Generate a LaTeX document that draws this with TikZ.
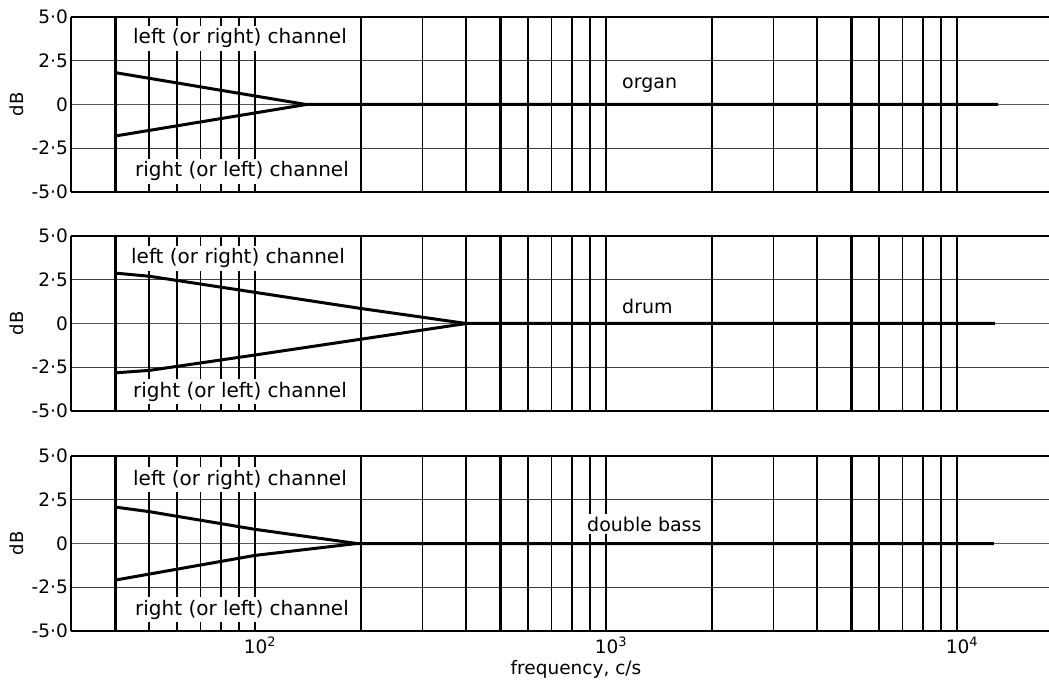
\documentclass[tikz,border=0pt]{standalone}
\usepackage{fontspec}
\setmainfont{DejaVu Sans}
\begin{document}
\begin{tikzpicture}[x=1pt,y=-1pt,
  border/.style={line width=2pt,black},
  hgrid/.style={line width=1.4pt,black!75},
  zgrid/.style={line width=1.2pt,black!65},
  curve/.style={line width=3pt,black,line join=round},
  tick/.style={font=\fontsize{18.5}{22}\selectfont,inner sep=1pt,anchor=east},
  chan/.style={font=\fontsize{20}{24}\selectfont,fill=white,inner sep=3pt,anchor=base},
  inst/.style={font=\fontsize{19}{22}\selectfont,fill=white,inner sep=3pt,anchor=base west},
  axlab/.style={font=\fontsize{18.5}{22}\selectfont,inner sep=1pt,anchor=base}]
\useasboundingbox (0,0) rectangle (1049,684);
% grids of the three panels
\foreach \T in {17,236,456} {
  \begin{scope}[shift={(255,\T+87.5)},x=351pt,y=17.5pt]
    \foreach \d in {2.5,-2.5} \draw[hgrid] (-0.52288,\d) -- (2.262,\d);
    \draw[zgrid] (-0.52288,0) -- (2.262,0);
    \foreach \u/\w in {-0.39794/2.6,-0.30103/1.7,-0.22185/1.7,-0.15490/1.7,-0.09691/1.7,-0.04576/1.7,
                       0/2.6,0.30103/1.7,0.47712/1.5,0.60206/1.7,0.69897/2.4,0.77815/1.7,0.84510/1.7,0.90309/1.7,0.95424/1.7,
                       1/2.6,1.30103/1.7,1.47712/1.5,1.60206/1.7,1.69897/2.4,1.77815/1.7,1.84510/1.7,1.90309/1.7,1.95424/1.7,2/2.6}
      \draw[line width=\w pt,black] (\u,5) -- (\u,-5);
    \draw[border] (-0.52288,5) -- (2.262,5);
    \draw[border] (-0.52288,-5) -- (2.262,-5);
    \draw[border] (-0.52288,5) -- (-0.52288,-5);
  \end{scope}
  \node[tick] (t50-\T) at (69,\T) {5·0};
  \node[tick] (t25-\T) at (69,\T+43.75) {2·5};
  \node[tick] (t0-\T) at (69,\T+87.5) {0};
  \node[tick] (tm25-\T) at (69,\T+131.25) {-2·5};
  \node[tick] (tm50-\T) at (69,\T+175) {-5·0};
  \node[font=\fontsize{18}{20}\selectfont,rotate=90,inner sep=0pt] (db-\T) at (17,\T+87.5) {dB};
}
% organ
\begin{scope}[shift={(255,104.5)},x=351pt,y=17.5pt]
  \draw[curve] (-0.39794,1.82) -- (0.146,0) -- (2.117,0);
  \draw[curve] (-0.39794,-1.80) -- (0.146,0);
\end{scope}
% drum
\begin{scope}[shift={(255,323.5)},x=351pt,y=17.5pt]
  \draw[curve] (-0.39794,2.88) -- (-0.30103,2.70) -- (0,1.78) -- (0.30103,0.86) -- (0.60206,0) -- (2.108,0);
  \draw[curve] (-0.39794,-2.82) -- (-0.30103,-2.68) -- (0,-1.80) -- (0.60206,0);
\end{scope}
% double bass
\begin{scope}[shift={(255,543.5)},x=351pt,y=17.5pt]
  \draw[curve] (-0.39794,2.08) -- (-0.30103,1.82) -- (0,0.81) -- (0.29,0) -- (2.105,0);
  \draw[curve] (-0.39794,-2.09) -- (0,-0.68) -- (0.29,0);
\end{scope}
% channel labels
\node[chan] (la) at (240,44) {left (or right) channel};
\node[chan] (ra) at (242,177) {right (or left) channel};
\node[chan] (lb) at (238,264) {left (or right) channel};
\node[chan] (rb) at (240,397) {right (or left) channel};
\node[chan] (lc) at (240,485) {left (or right) channel};
\node[chan] (rc) at (242,615) {right (or left) channel};
% instrument labels
\node[inst] (organ) at (619,89) {organ};
\node[inst] (drum) at (619,314) {drum};
\node[inst] (bass) at (584,531) {double bass};
% frequency axis
\node[axlab] (e2) at (260,653) {10\textsuperscript{2}};
\node[axlab] (e3) at (611,653) {10\textsuperscript{3}};
\node[axlab] (e4) at (962,653) {10\textsuperscript{4}};
\node[axlab] (freq) at (576,674) {frequency, c/s};
\end{tikzpicture}
\end{document}
